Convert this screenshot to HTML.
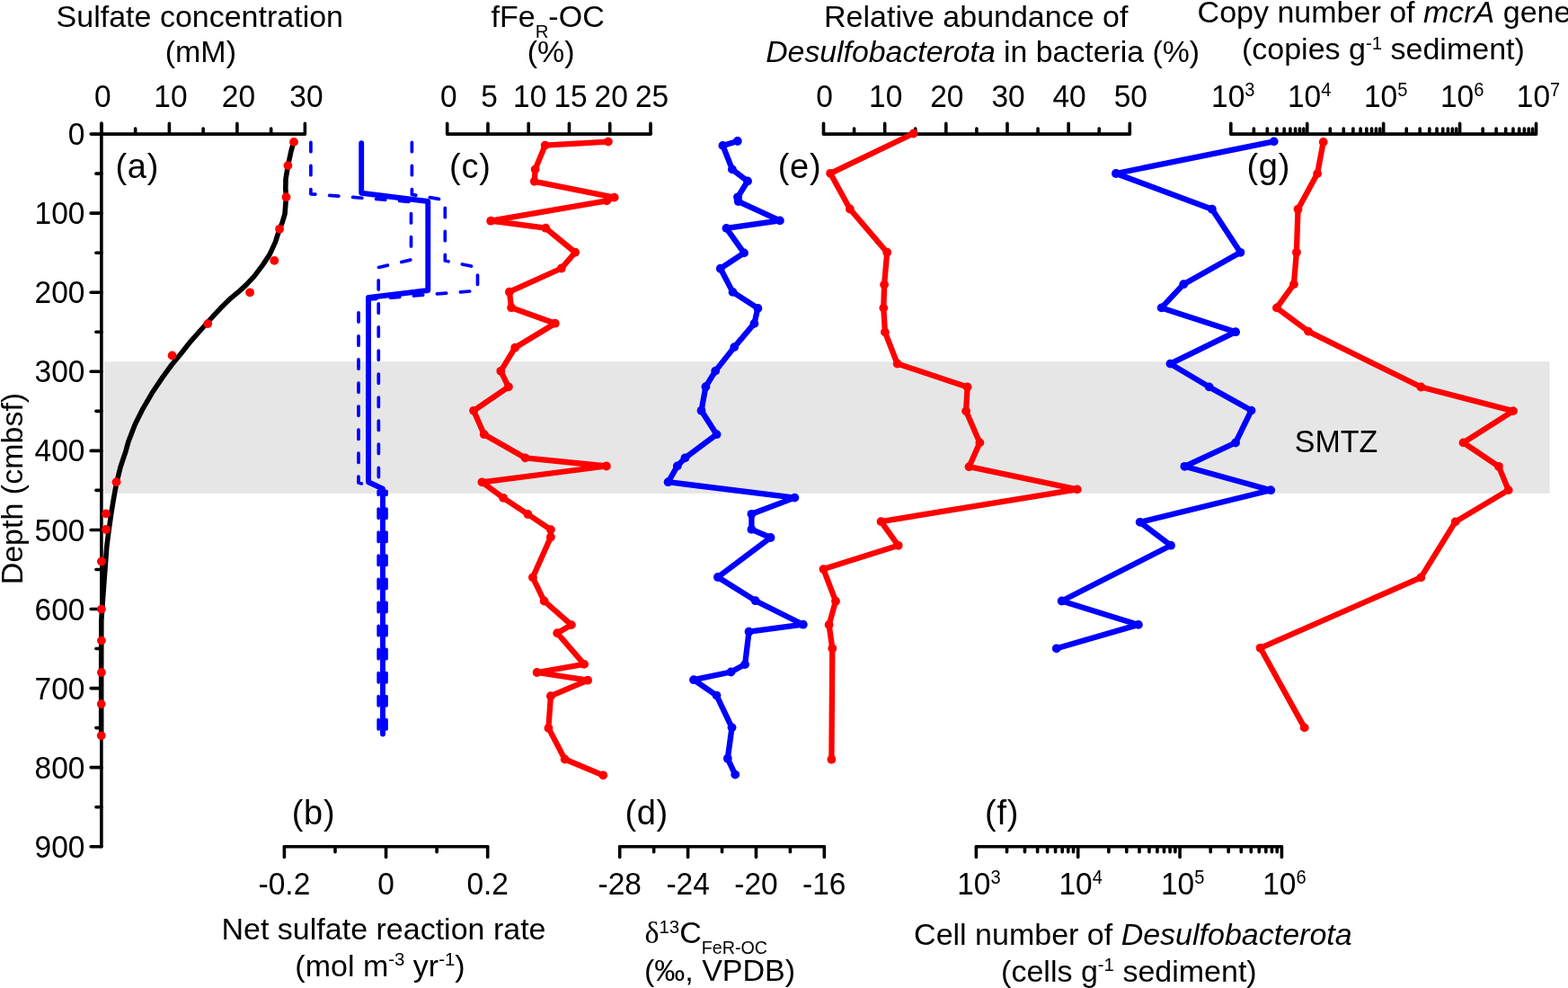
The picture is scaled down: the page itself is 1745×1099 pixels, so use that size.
<!DOCTYPE html>
<html><head><meta charset="utf-8"><title>Figure</title>
<style>html,body{margin:0;padding:0;background:#fff;}svg{display:block;}text{font-family:"Liberation Sans",Arial,sans-serif;fill:#000;}</style>
</head><body>
<svg width="1745" height="1099" viewBox="0 0 1745 1099">
<rect width="1745" height="1099" fill="#fff"/>
<rect x="115.9" y="402.2" width="1608.7" height="146.65" fill="#e6e6e6"/>
<line x1="112.90" y1="137.40" x2="112.90" y2="941.70" stroke="#000" stroke-width="3.6" stroke-linecap="round"/>
<line x1="101.20" y1="149.10" x2="112.90" y2="149.10" stroke="#000" stroke-width="3.6" stroke-linecap="round"/>
<text transform="translate(94.5,161.1) scale(1,1.075)" font-size="33.5" text-anchor="end" >0</text>
<line x1="106.90" y1="193.13" x2="112.90" y2="193.13" stroke="#000" stroke-width="3.6" stroke-linecap="round"/>
<line x1="101.20" y1="237.17" x2="112.90" y2="237.17" stroke="#000" stroke-width="3.6" stroke-linecap="round"/>
<text transform="translate(94.5,249.2) scale(1,1.075)" font-size="33.5" text-anchor="end" >100</text>
<line x1="106.90" y1="281.21" x2="112.90" y2="281.21" stroke="#000" stroke-width="3.6" stroke-linecap="round"/>
<line x1="101.20" y1="325.24" x2="112.90" y2="325.24" stroke="#000" stroke-width="3.6" stroke-linecap="round"/>
<text transform="translate(94.5,337.2) scale(1,1.075)" font-size="33.5" text-anchor="end" >200</text>
<line x1="106.90" y1="369.27" x2="112.90" y2="369.27" stroke="#000" stroke-width="3.6" stroke-linecap="round"/>
<line x1="101.20" y1="413.31" x2="112.90" y2="413.31" stroke="#000" stroke-width="3.6" stroke-linecap="round"/>
<text transform="translate(94.5,425.3) scale(1,1.075)" font-size="33.5" text-anchor="end" >300</text>
<line x1="106.90" y1="457.35" x2="112.90" y2="457.35" stroke="#000" stroke-width="3.6" stroke-linecap="round"/>
<line x1="101.20" y1="501.38" x2="112.90" y2="501.38" stroke="#000" stroke-width="3.6" stroke-linecap="round"/>
<text transform="translate(94.5,513.4) scale(1,1.075)" font-size="33.5" text-anchor="end" >400</text>
<line x1="106.90" y1="545.41" x2="112.90" y2="545.41" stroke="#000" stroke-width="3.6" stroke-linecap="round"/>
<line x1="101.20" y1="589.45" x2="112.90" y2="589.45" stroke="#000" stroke-width="3.6" stroke-linecap="round"/>
<text transform="translate(94.5,601.5) scale(1,1.075)" font-size="33.5" text-anchor="end" >500</text>
<line x1="106.90" y1="633.49" x2="112.90" y2="633.49" stroke="#000" stroke-width="3.6" stroke-linecap="round"/>
<line x1="101.20" y1="677.52" x2="112.90" y2="677.52" stroke="#000" stroke-width="3.6" stroke-linecap="round"/>
<text transform="translate(94.5,689.5) scale(1,1.075)" font-size="33.5" text-anchor="end" >600</text>
<line x1="106.90" y1="721.56" x2="112.90" y2="721.56" stroke="#000" stroke-width="3.6" stroke-linecap="round"/>
<line x1="101.20" y1="765.59" x2="112.90" y2="765.59" stroke="#000" stroke-width="3.6" stroke-linecap="round"/>
<text transform="translate(94.5,777.6) scale(1,1.075)" font-size="33.5" text-anchor="end" >700</text>
<line x1="106.90" y1="809.62" x2="112.90" y2="809.62" stroke="#000" stroke-width="3.6" stroke-linecap="round"/>
<line x1="101.20" y1="853.66" x2="112.90" y2="853.66" stroke="#000" stroke-width="3.6" stroke-linecap="round"/>
<text transform="translate(94.5,865.7) scale(1,1.075)" font-size="33.5" text-anchor="end" >800</text>
<line x1="106.90" y1="897.70" x2="112.90" y2="897.70" stroke="#000" stroke-width="3.6" stroke-linecap="round"/>
<line x1="101.20" y1="941.73" x2="112.90" y2="941.73" stroke="#000" stroke-width="3.6" stroke-linecap="round"/>
<text transform="translate(94.5,953.7) scale(1,1.075)" font-size="33.5" text-anchor="end" >900</text>
<line x1="112.90" y1="149.10" x2="339.40" y2="149.10" stroke="#000" stroke-width="3.6" stroke-linecap="round"/>
<line x1="112.90" y1="137.40" x2="112.90" y2="149.10" stroke="#000" stroke-width="3.6" stroke-linecap="round"/>
<line x1="188.40" y1="137.40" x2="188.40" y2="149.10" stroke="#000" stroke-width="3.6" stroke-linecap="round"/>
<line x1="263.90" y1="137.40" x2="263.90" y2="149.10" stroke="#000" stroke-width="3.6" stroke-linecap="round"/>
<line x1="339.40" y1="137.40" x2="339.40" y2="149.10" stroke="#000" stroke-width="3.6" stroke-linecap="round"/>
<line x1="150.65" y1="143.10" x2="150.65" y2="149.10" stroke="#000" stroke-width="3.6" stroke-linecap="round"/>
<line x1="226.15" y1="143.10" x2="226.15" y2="149.10" stroke="#000" stroke-width="3.6" stroke-linecap="round"/>
<line x1="301.65" y1="143.10" x2="301.65" y2="149.10" stroke="#000" stroke-width="3.6" stroke-linecap="round"/>
<text transform="translate(114.4,119.0) scale(1,1.075)" font-size="33.5" text-anchor="middle" >0</text>
<text transform="translate(189.9,119.0) scale(1,1.075)" font-size="33.5" text-anchor="middle" >10</text>
<text transform="translate(265.4,119.0) scale(1,1.075)" font-size="33.5" text-anchor="middle" >20</text>
<text transform="translate(340.9,119.0) scale(1,1.075)" font-size="33.5" text-anchor="middle" >30</text>
<line x1="497.70" y1="149.10" x2="724.00" y2="149.10" stroke="#000" stroke-width="3.6" stroke-linecap="round"/>
<line x1="497.70" y1="137.40" x2="497.70" y2="149.10" stroke="#000" stroke-width="3.6" stroke-linecap="round"/>
<line x1="542.96" y1="137.40" x2="542.96" y2="149.10" stroke="#000" stroke-width="3.6" stroke-linecap="round"/>
<line x1="588.22" y1="137.40" x2="588.22" y2="149.10" stroke="#000" stroke-width="3.6" stroke-linecap="round"/>
<line x1="633.48" y1="137.40" x2="633.48" y2="149.10" stroke="#000" stroke-width="3.6" stroke-linecap="round"/>
<line x1="678.74" y1="137.40" x2="678.74" y2="149.10" stroke="#000" stroke-width="3.6" stroke-linecap="round"/>
<line x1="724.00" y1="137.40" x2="724.00" y2="149.10" stroke="#000" stroke-width="3.6" stroke-linecap="round"/>
<text transform="translate(499.2,119.0) scale(1,1.075)" font-size="33.5" text-anchor="middle" >0</text>
<text transform="translate(544.5,119.0) scale(1,1.075)" font-size="33.5" text-anchor="middle" >5</text>
<text transform="translate(589.7,119.0) scale(1,1.075)" font-size="33.5" text-anchor="middle" >10</text>
<text transform="translate(635.0,119.0) scale(1,1.075)" font-size="33.5" text-anchor="middle" >15</text>
<text transform="translate(680.2,119.0) scale(1,1.075)" font-size="33.5" text-anchor="middle" >20</text>
<text transform="translate(725.5,119.0) scale(1,1.075)" font-size="33.5" text-anchor="middle" >25</text>
<line x1="916.50" y1="149.10" x2="1257.30" y2="149.10" stroke="#000" stroke-width="3.6" stroke-linecap="round"/>
<line x1="916.50" y1="137.40" x2="916.50" y2="149.10" stroke="#000" stroke-width="3.6" stroke-linecap="round"/>
<line x1="984.66" y1="137.40" x2="984.66" y2="149.10" stroke="#000" stroke-width="3.6" stroke-linecap="round"/>
<line x1="1052.82" y1="137.40" x2="1052.82" y2="149.10" stroke="#000" stroke-width="3.6" stroke-linecap="round"/>
<line x1="1120.98" y1="137.40" x2="1120.98" y2="149.10" stroke="#000" stroke-width="3.6" stroke-linecap="round"/>
<line x1="1189.14" y1="137.40" x2="1189.14" y2="149.10" stroke="#000" stroke-width="3.6" stroke-linecap="round"/>
<line x1="1257.30" y1="137.40" x2="1257.30" y2="149.10" stroke="#000" stroke-width="3.6" stroke-linecap="round"/>
<line x1="950.58" y1="143.10" x2="950.58" y2="149.10" stroke="#000" stroke-width="3.6" stroke-linecap="round"/>
<line x1="1018.74" y1="143.10" x2="1018.74" y2="149.10" stroke="#000" stroke-width="3.6" stroke-linecap="round"/>
<line x1="1086.90" y1="143.10" x2="1086.90" y2="149.10" stroke="#000" stroke-width="3.6" stroke-linecap="round"/>
<line x1="1155.06" y1="143.10" x2="1155.06" y2="149.10" stroke="#000" stroke-width="3.6" stroke-linecap="round"/>
<line x1="1223.22" y1="143.10" x2="1223.22" y2="149.10" stroke="#000" stroke-width="3.6" stroke-linecap="round"/>
<text transform="translate(917.5,119.0) scale(1,1.075)" font-size="33.5" text-anchor="middle" >0</text>
<text transform="translate(985.7,119.0) scale(1,1.075)" font-size="33.5" text-anchor="middle" >10</text>
<text transform="translate(1053.8,119.0) scale(1,1.075)" font-size="33.5" text-anchor="middle" >20</text>
<text transform="translate(1122.0,119.0) scale(1,1.075)" font-size="33.5" text-anchor="middle" >30</text>
<text transform="translate(1190.1,119.0) scale(1,1.075)" font-size="33.5" text-anchor="middle" >40</text>
<text transform="translate(1258.3,119.0) scale(1,1.075)" font-size="33.5" text-anchor="middle" >50</text>
<line x1="1369.80" y1="149.10" x2="1709.52" y2="149.10" stroke="#000" stroke-width="3.6" stroke-linecap="round"/>
<line x1="1369.80" y1="137.40" x2="1369.80" y2="149.10" stroke="#000" stroke-width="3.6" stroke-linecap="round"/>
<line x1="1454.73" y1="137.40" x2="1454.73" y2="149.10" stroke="#000" stroke-width="3.6" stroke-linecap="round"/>
<line x1="1539.66" y1="137.40" x2="1539.66" y2="149.10" stroke="#000" stroke-width="3.6" stroke-linecap="round"/>
<line x1="1624.59" y1="137.40" x2="1624.59" y2="149.10" stroke="#000" stroke-width="3.6" stroke-linecap="round"/>
<line x1="1709.52" y1="137.40" x2="1709.52" y2="149.10" stroke="#000" stroke-width="3.6" stroke-linecap="round"/>
<line x1="1395.37" y1="143.10" x2="1395.37" y2="149.10" stroke="#000" stroke-width="3.6" stroke-linecap="round"/>
<line x1="1410.32" y1="143.10" x2="1410.32" y2="149.10" stroke="#000" stroke-width="3.6" stroke-linecap="round"/>
<line x1="1420.93" y1="143.10" x2="1420.93" y2="149.10" stroke="#000" stroke-width="3.6" stroke-linecap="round"/>
<line x1="1429.16" y1="143.10" x2="1429.16" y2="149.10" stroke="#000" stroke-width="3.6" stroke-linecap="round"/>
<line x1="1435.89" y1="143.10" x2="1435.89" y2="149.10" stroke="#000" stroke-width="3.6" stroke-linecap="round"/>
<line x1="1441.57" y1="143.10" x2="1441.57" y2="149.10" stroke="#000" stroke-width="3.6" stroke-linecap="round"/>
<line x1="1446.50" y1="143.10" x2="1446.50" y2="149.10" stroke="#000" stroke-width="3.6" stroke-linecap="round"/>
<line x1="1450.84" y1="143.10" x2="1450.84" y2="149.10" stroke="#000" stroke-width="3.6" stroke-linecap="round"/>
<line x1="1480.30" y1="143.10" x2="1480.30" y2="149.10" stroke="#000" stroke-width="3.6" stroke-linecap="round"/>
<line x1="1495.25" y1="143.10" x2="1495.25" y2="149.10" stroke="#000" stroke-width="3.6" stroke-linecap="round"/>
<line x1="1505.86" y1="143.10" x2="1505.86" y2="149.10" stroke="#000" stroke-width="3.6" stroke-linecap="round"/>
<line x1="1514.09" y1="143.10" x2="1514.09" y2="149.10" stroke="#000" stroke-width="3.6" stroke-linecap="round"/>
<line x1="1520.82" y1="143.10" x2="1520.82" y2="149.10" stroke="#000" stroke-width="3.6" stroke-linecap="round"/>
<line x1="1526.50" y1="143.10" x2="1526.50" y2="149.10" stroke="#000" stroke-width="3.6" stroke-linecap="round"/>
<line x1="1531.43" y1="143.10" x2="1531.43" y2="149.10" stroke="#000" stroke-width="3.6" stroke-linecap="round"/>
<line x1="1535.77" y1="143.10" x2="1535.77" y2="149.10" stroke="#000" stroke-width="3.6" stroke-linecap="round"/>
<line x1="1565.23" y1="143.10" x2="1565.23" y2="149.10" stroke="#000" stroke-width="3.6" stroke-linecap="round"/>
<line x1="1580.18" y1="143.10" x2="1580.18" y2="149.10" stroke="#000" stroke-width="3.6" stroke-linecap="round"/>
<line x1="1590.79" y1="143.10" x2="1590.79" y2="149.10" stroke="#000" stroke-width="3.6" stroke-linecap="round"/>
<line x1="1599.02" y1="143.10" x2="1599.02" y2="149.10" stroke="#000" stroke-width="3.6" stroke-linecap="round"/>
<line x1="1605.75" y1="143.10" x2="1605.75" y2="149.10" stroke="#000" stroke-width="3.6" stroke-linecap="round"/>
<line x1="1611.43" y1="143.10" x2="1611.43" y2="149.10" stroke="#000" stroke-width="3.6" stroke-linecap="round"/>
<line x1="1616.36" y1="143.10" x2="1616.36" y2="149.10" stroke="#000" stroke-width="3.6" stroke-linecap="round"/>
<line x1="1620.70" y1="143.10" x2="1620.70" y2="149.10" stroke="#000" stroke-width="3.6" stroke-linecap="round"/>
<line x1="1650.16" y1="143.10" x2="1650.16" y2="149.10" stroke="#000" stroke-width="3.6" stroke-linecap="round"/>
<line x1="1665.11" y1="143.10" x2="1665.11" y2="149.10" stroke="#000" stroke-width="3.6" stroke-linecap="round"/>
<line x1="1675.72" y1="143.10" x2="1675.72" y2="149.10" stroke="#000" stroke-width="3.6" stroke-linecap="round"/>
<line x1="1683.95" y1="143.10" x2="1683.95" y2="149.10" stroke="#000" stroke-width="3.6" stroke-linecap="round"/>
<line x1="1690.68" y1="143.10" x2="1690.68" y2="149.10" stroke="#000" stroke-width="3.6" stroke-linecap="round"/>
<line x1="1696.36" y1="143.10" x2="1696.36" y2="149.10" stroke="#000" stroke-width="3.6" stroke-linecap="round"/>
<line x1="1701.29" y1="143.10" x2="1701.29" y2="149.10" stroke="#000" stroke-width="3.6" stroke-linecap="round"/>
<line x1="1705.63" y1="143.10" x2="1705.63" y2="149.10" stroke="#000" stroke-width="3.6" stroke-linecap="round"/>
<text transform="translate(1372.3,119.0) scale(1,1.075)" font-size="33.5" text-anchor="middle">10<tspan font-size="20.1" dy="-11.1">3</tspan></text>
<text transform="translate(1457.2,119.0) scale(1,1.075)" font-size="33.5" text-anchor="middle">10<tspan font-size="20.1" dy="-11.1">4</tspan></text>
<text transform="translate(1542.2,119.0) scale(1,1.075)" font-size="33.5" text-anchor="middle">10<tspan font-size="20.1" dy="-11.1">5</tspan></text>
<text transform="translate(1627.1,119.0) scale(1,1.075)" font-size="33.5" text-anchor="middle">10<tspan font-size="20.1" dy="-11.1">6</tspan></text>
<text transform="translate(1712.0,119.0) scale(1,1.075)" font-size="33.5" text-anchor="middle">10<tspan font-size="20.1" dy="-11.1">7</tspan></text>
<line x1="316.40" y1="941.70" x2="542.70" y2="941.70" stroke="#000" stroke-width="3.6" stroke-linecap="round"/>
<line x1="316.40" y1="941.70" x2="316.40" y2="953.40" stroke="#000" stroke-width="3.6" stroke-linecap="round"/>
<line x1="429.55" y1="941.70" x2="429.55" y2="953.40" stroke="#000" stroke-width="3.6" stroke-linecap="round"/>
<line x1="542.70" y1="941.70" x2="542.70" y2="953.40" stroke="#000" stroke-width="3.6" stroke-linecap="round"/>
<line x1="372.98" y1="941.70" x2="372.98" y2="947.70" stroke="#000" stroke-width="3.6" stroke-linecap="round"/>
<line x1="486.12" y1="941.70" x2="486.12" y2="947.70" stroke="#000" stroke-width="3.6" stroke-linecap="round"/>
<text transform="translate(316.4,994.6) scale(1,1.075)" font-size="33.5" text-anchor="middle" >-0.2</text>
<text transform="translate(429.6,994.6) scale(1,1.075)" font-size="33.5" text-anchor="middle" >0</text>
<text transform="translate(542.7,994.6) scale(1,1.075)" font-size="33.5" text-anchor="middle" >0.2</text>
<line x1="689.70" y1="941.70" x2="917.34" y2="941.70" stroke="#000" stroke-width="3.6" stroke-linecap="round"/>
<line x1="689.70" y1="941.70" x2="689.70" y2="953.40" stroke="#000" stroke-width="3.6" stroke-linecap="round"/>
<line x1="765.58" y1="941.70" x2="765.58" y2="953.40" stroke="#000" stroke-width="3.6" stroke-linecap="round"/>
<line x1="841.46" y1="941.70" x2="841.46" y2="953.40" stroke="#000" stroke-width="3.6" stroke-linecap="round"/>
<line x1="917.34" y1="941.70" x2="917.34" y2="953.40" stroke="#000" stroke-width="3.6" stroke-linecap="round"/>
<line x1="727.64" y1="941.70" x2="727.64" y2="947.70" stroke="#000" stroke-width="3.6" stroke-linecap="round"/>
<line x1="803.52" y1="941.70" x2="803.52" y2="947.70" stroke="#000" stroke-width="3.6" stroke-linecap="round"/>
<line x1="879.40" y1="941.70" x2="879.40" y2="947.70" stroke="#000" stroke-width="3.6" stroke-linecap="round"/>
<text transform="translate(689.7,994.6) scale(1,1.075)" font-size="33.5" text-anchor="middle" >-28</text>
<text transform="translate(765.6,994.6) scale(1,1.075)" font-size="33.5" text-anchor="middle" >-24</text>
<text transform="translate(841.5,994.6) scale(1,1.075)" font-size="33.5" text-anchor="middle" >-20</text>
<text transform="translate(917.3,994.6) scale(1,1.075)" font-size="33.5" text-anchor="middle" >-16</text>
<line x1="1086.40" y1="941.70" x2="1426.39" y2="941.70" stroke="#000" stroke-width="3.6" stroke-linecap="round"/>
<line x1="1086.40" y1="941.70" x2="1086.40" y2="953.40" stroke="#000" stroke-width="3.6" stroke-linecap="round"/>
<line x1="1199.73" y1="941.70" x2="1199.73" y2="953.40" stroke="#000" stroke-width="3.6" stroke-linecap="round"/>
<line x1="1313.06" y1="941.70" x2="1313.06" y2="953.40" stroke="#000" stroke-width="3.6" stroke-linecap="round"/>
<line x1="1426.39" y1="941.70" x2="1426.39" y2="953.40" stroke="#000" stroke-width="3.6" stroke-linecap="round"/>
<line x1="1120.52" y1="941.70" x2="1120.52" y2="947.70" stroke="#000" stroke-width="3.6" stroke-linecap="round"/>
<line x1="1140.47" y1="941.70" x2="1140.47" y2="947.70" stroke="#000" stroke-width="3.6" stroke-linecap="round"/>
<line x1="1154.63" y1="941.70" x2="1154.63" y2="947.70" stroke="#000" stroke-width="3.6" stroke-linecap="round"/>
<line x1="1165.61" y1="941.70" x2="1165.61" y2="947.70" stroke="#000" stroke-width="3.6" stroke-linecap="round"/>
<line x1="1174.59" y1="941.70" x2="1174.59" y2="947.70" stroke="#000" stroke-width="3.6" stroke-linecap="round"/>
<line x1="1182.17" y1="941.70" x2="1182.17" y2="947.70" stroke="#000" stroke-width="3.6" stroke-linecap="round"/>
<line x1="1188.75" y1="941.70" x2="1188.75" y2="947.70" stroke="#000" stroke-width="3.6" stroke-linecap="round"/>
<line x1="1194.54" y1="941.70" x2="1194.54" y2="947.70" stroke="#000" stroke-width="3.6" stroke-linecap="round"/>
<line x1="1233.85" y1="941.70" x2="1233.85" y2="947.70" stroke="#000" stroke-width="3.6" stroke-linecap="round"/>
<line x1="1253.80" y1="941.70" x2="1253.80" y2="947.70" stroke="#000" stroke-width="3.6" stroke-linecap="round"/>
<line x1="1267.96" y1="941.70" x2="1267.96" y2="947.70" stroke="#000" stroke-width="3.6" stroke-linecap="round"/>
<line x1="1278.94" y1="941.70" x2="1278.94" y2="947.70" stroke="#000" stroke-width="3.6" stroke-linecap="round"/>
<line x1="1287.92" y1="941.70" x2="1287.92" y2="947.70" stroke="#000" stroke-width="3.6" stroke-linecap="round"/>
<line x1="1295.50" y1="941.70" x2="1295.50" y2="947.70" stroke="#000" stroke-width="3.6" stroke-linecap="round"/>
<line x1="1302.08" y1="941.70" x2="1302.08" y2="947.70" stroke="#000" stroke-width="3.6" stroke-linecap="round"/>
<line x1="1307.87" y1="941.70" x2="1307.87" y2="947.70" stroke="#000" stroke-width="3.6" stroke-linecap="round"/>
<line x1="1347.18" y1="941.70" x2="1347.18" y2="947.70" stroke="#000" stroke-width="3.6" stroke-linecap="round"/>
<line x1="1367.13" y1="941.70" x2="1367.13" y2="947.70" stroke="#000" stroke-width="3.6" stroke-linecap="round"/>
<line x1="1381.29" y1="941.70" x2="1381.29" y2="947.70" stroke="#000" stroke-width="3.6" stroke-linecap="round"/>
<line x1="1392.27" y1="941.70" x2="1392.27" y2="947.70" stroke="#000" stroke-width="3.6" stroke-linecap="round"/>
<line x1="1401.25" y1="941.70" x2="1401.25" y2="947.70" stroke="#000" stroke-width="3.6" stroke-linecap="round"/>
<line x1="1408.83" y1="941.70" x2="1408.83" y2="947.70" stroke="#000" stroke-width="3.6" stroke-linecap="round"/>
<line x1="1415.41" y1="941.70" x2="1415.41" y2="947.70" stroke="#000" stroke-width="3.6" stroke-linecap="round"/>
<line x1="1421.20" y1="941.70" x2="1421.20" y2="947.70" stroke="#000" stroke-width="3.6" stroke-linecap="round"/>
<text transform="translate(1089.4,994.6) scale(1,1.075)" font-size="33.5" text-anchor="middle">10<tspan font-size="20.1" dy="-11.1">3</tspan></text>
<text transform="translate(1202.7,994.6) scale(1,1.075)" font-size="33.5" text-anchor="middle">10<tspan font-size="20.1" dy="-11.1">4</tspan></text>
<text transform="translate(1316.1,994.6) scale(1,1.075)" font-size="33.5" text-anchor="middle">10<tspan font-size="20.1" dy="-11.1">5</tspan></text>
<text transform="translate(1429.4,994.6) scale(1,1.075)" font-size="33.5" text-anchor="middle">10<tspan font-size="20.1" dy="-11.1">6</tspan></text>
<text transform="translate(128.5,198.0) scale(1,1.0)" font-size="38" text-anchor="start" letter-spacing="0.7">(a)</text>
<text transform="translate(324.7,917.0) scale(1,1.0)" font-size="38" text-anchor="start" letter-spacing="0.7">(b)</text>
<text transform="translate(500.1,198.0) scale(1,1.0)" font-size="38" text-anchor="start" letter-spacing="0.7">(c)</text>
<text transform="translate(695.4,917.0) scale(1,1.0)" font-size="38" text-anchor="start" letter-spacing="0.7">(d)</text>
<text transform="translate(865.7,198.0) scale(1,1.0)" font-size="38" text-anchor="start" letter-spacing="0.7">(e)</text>
<text transform="translate(1096.1,917.0) scale(1,1.0)" font-size="38" text-anchor="start" letter-spacing="0.7">(f)</text>
<text transform="translate(1387.5,198.0) scale(1,1.0)" font-size="38" text-anchor="start" letter-spacing="0.7">(g)</text>
<text transform="translate(222.3,30.0) scale(1,1.0)" font-size="34" text-anchor="middle" >Sulfate concentration</text>
<text transform="translate(223.3,69.0) scale(1,1.0)" font-size="34" text-anchor="middle" >(mM)</text>
<text transform="translate(546.5,30) scale(1,1.0)" font-size="34" text-anchor="start">fFe<tspan font-size="20.4" dy="11.5">R</tspan><tspan dy="-11.5">-OC</tspan></text>
<text transform="translate(613.2,69.0) scale(1,1.0)" font-size="34" text-anchor="middle" >(%)</text>
<text transform="translate(1086.2,29.8) scale(1,1.0)" font-size="34" text-anchor="middle" >Relative abundance of</text>
<text transform="translate(1093.6,68.6) scale(1,1.0)" font-size="33.8" text-anchor="middle"><tspan font-style="italic">Desulfobacterota</tspan> in bacteria (%)</text>
<text transform="translate(1540.5,25.3) scale(1,1.0)" font-size="34" text-anchor="middle">Copy number of <tspan font-style="italic">mcrA</tspan> gene</text>
<text transform="translate(1539.4,66.4) scale(1,1.0)" font-size="34" text-anchor="middle">(copies g<tspan font-size="20.4" dy="-11.7">-1</tspan><tspan dy="11.7"> sediment)</tspan></text>
<text transform="translate(427.0,1045.4) scale(1,1.0)" font-size="34" text-anchor="middle" >Net sulfate reaction rate</text>
<text transform="translate(423,1086) scale(1,1.0)" font-size="34" text-anchor="middle">(mol m<tspan font-size="20.4" dy="-11.7">-3</tspan><tspan dy="11.7"> yr</tspan><tspan font-size="20.4" dy="-11.7">-1</tspan><tspan dy="11.7">)</tspan></text>
<text transform="translate(717.5,1049) scale(1,1.0)" font-size="34" text-anchor="start"><tspan font-family="Liberation Serif, serif">δ</tspan><tspan font-size="20.4" dy="-11">13</tspan><tspan dy="11">C</tspan><tspan font-size="19.7" dy="12">FeR-OC</tspan></text>
<text transform="translate(801.0,1090.5) scale(1,1.0)" font-size="34" text-anchor="middle" >(‰, VPDB)</text>
<text transform="translate(1260.9,1051) scale(1,1.0)" font-size="34" text-anchor="middle">Cell number of <tspan font-style="italic">Desulfobacterota</tspan></text>
<text transform="translate(1256.4,1091.9) scale(1,1.0)" font-size="34" text-anchor="middle">(cells g<tspan font-size="20.4" dy="-11.7">-1</tspan><tspan dy="11.7"> sediment)</tspan></text>
<text transform="translate(1487,503) scale(1,1.055)" font-size="34" text-anchor="middle">SMTZ</text>
<text transform="translate(24.5,543.6) rotate(-90) scale(1,1.0)" font-size="34" text-anchor="middle">Depth (cmbsf)</text>
<polyline points="326.8,157.8 324.0,168.0 320.5,184.0 318.0,199.0 317.8,210.0 318.5,219.0 317.0,238.0 314.0,248.0 311.1,254.8 306.5,269.1 300.1,283.1 292.5,294.6 282.9,307.4 273.3,317.6 266.3,323.9 255.5,332.9 245.3,343.1 236.8,352.2 224.4,366.0 212.1,379.8 201.1,393.7 190.9,406.0 180.8,419.9 169.1,437.3 158.9,454.8 150.2,472.3 142.9,491.2 140.0,501.8 134.1,519.3 129.8,536.8 126.8,552.8 123.9,570.3 121.0,590.7 118.8,608.1 117.3,628.0 114.5,666.0 112.8,690.0 112.7,760.0 112.7,818.0" fill="none" stroke="#000" stroke-width="5.6" stroke-linejoin="round" stroke-linecap="round"/>
<circle cx="327" cy="157.9" r="4.9" fill="#ff0000"/>
<circle cx="320.4" cy="184.1" r="4.9" fill="#ff0000"/>
<circle cx="318.5" cy="219.2" r="4.9" fill="#ff0000"/>
<circle cx="311.1" cy="254.8" r="4.9" fill="#ff0000"/>
<circle cx="305.3" cy="289.9" r="4.9" fill="#ff0000"/>
<circle cx="278.1" cy="325.3" r="4.9" fill="#ff0000"/>
<circle cx="231.2" cy="360.1" r="4.9" fill="#ff0000"/>
<circle cx="191.6" cy="395.5" r="4.9" fill="#ff0000"/>
<circle cx="129.5" cy="536.2" r="4.9" fill="#ff0000"/>
<circle cx="118" cy="571.4" r="4.9" fill="#ff0000"/>
<circle cx="118" cy="589" r="4.9" fill="#ff0000"/>
<circle cx="112.9" cy="624.5" r="4.9" fill="#ff0000"/>
<circle cx="112.9" cy="677.6" r="4.9" fill="#ff0000"/>
<circle cx="112.9" cy="712.6" r="4.9" fill="#ff0000"/>
<circle cx="112.9" cy="748" r="4.9" fill="#ff0000"/>
<circle cx="112.7" cy="783.1" r="4.9" fill="#ff0000"/>
<circle cx="112.7" cy="818.3" r="4.9" fill="#ff0000"/>
<polyline points="345.9,158.4 345.9,215.8 457.5,224.5 457.5,289.0 421.2,297.5" fill="none" stroke="#0000ff" stroke-width="3.7" stroke-linejoin="round" stroke-linecap="round" stroke-dasharray="10.3 15.76" stroke-dashoffset="0"/>
<polyline points="421.2,297.5 421.4,540.0" fill="none" stroke="#0000ff" stroke-width="3.7" stroke-linejoin="round" stroke-linecap="round" stroke-dasharray="10.3 15.76" stroke-dashoffset="11.76"/>
<polyline points="458.4,158.4 458.4,216.4 495.3,222.5 495.3,290.0 531.5,297.5 531.5,323.3 411.0,333.0 408.0,327.5 399.0,332.2" fill="none" stroke="#0000ff" stroke-width="3.7" stroke-linejoin="round" stroke-linecap="round" stroke-dasharray="10.3 15.76" stroke-dashoffset="0"/>
<polyline points="399.0,332.2 399.0,537.0 410.0,540.0" fill="none" stroke="#0000ff" stroke-width="3.7" stroke-linejoin="round" stroke-linecap="round" stroke-dasharray="10.3 15.76" stroke-dashoffset="10.46"/>
<line x1="421.2" y1="546.3" x2="421.2" y2="814.4" stroke="#0000ff" stroke-width="3.7" stroke-linecap="round" stroke-dasharray="10.3 15.76" stroke-dashoffset="6.3"/>
<line x1="430" y1="546.3" x2="430" y2="814.4" stroke="#0000ff" stroke-width="3.7" stroke-linecap="round" stroke-dasharray="10.3 15.76" stroke-dashoffset="6.3"/>
<polyline points="402.2,159.3 402.2,214.8 476.3,224.0 476.3,323.0 410.0,331.0 410.0,536.3 426.0,543.7 426.0,816.5" fill="none" stroke="#0000ff" stroke-width="5.9" stroke-linejoin="round" stroke-linecap="round"/>
<polyline points="676.9,157.6 606.7,161.6 595.6,188.4 594.8,201.8 683.7,219.6 675.1,223.4 546.2,245.7 607.3,253.7 640.1,280.7 624.8,298.5 566.9,324.7 569.1,342.2 617.8,359.7 573.2,386.7 557.3,412.8 565.9,430.3 527.1,456.8 538.8,483.2 584.5,509.3 674.9,518.5 536.4,536.3 560.1,553.8 587.4,572.0 612.9,589.1 612.9,597.5 592.9,642.3 605.6,668.5 635.9,695.1 620.2,704.2 650.1,738.9 597.6,748.0 654.1,756.7 612.9,774.2 610.4,809.9 628.6,844.5 671.2,862.3" fill="none" stroke="#ff0000" stroke-width="6.3" stroke-linejoin="round" stroke-linecap="round"/>
<circle cx="676.9" cy="157.6" r="4.9" fill="#ff0000"/>
<circle cx="606.7" cy="161.6" r="4.9" fill="#ff0000"/>
<circle cx="595.6" cy="188.4" r="4.9" fill="#ff0000"/>
<circle cx="594.8" cy="201.8" r="4.9" fill="#ff0000"/>
<circle cx="683.7" cy="219.6" r="4.9" fill="#ff0000"/>
<circle cx="675.1" cy="223.4" r="4.9" fill="#ff0000"/>
<circle cx="546.2" cy="245.7" r="4.9" fill="#ff0000"/>
<circle cx="607.3" cy="253.7" r="4.9" fill="#ff0000"/>
<circle cx="640.1" cy="280.7" r="4.9" fill="#ff0000"/>
<circle cx="624.8" cy="298.5" r="4.9" fill="#ff0000"/>
<circle cx="566.9" cy="324.7" r="4.9" fill="#ff0000"/>
<circle cx="569.1" cy="342.2" r="4.9" fill="#ff0000"/>
<circle cx="617.8" cy="359.7" r="4.9" fill="#ff0000"/>
<circle cx="573.2" cy="386.7" r="4.9" fill="#ff0000"/>
<circle cx="557.3" cy="412.8" r="4.9" fill="#ff0000"/>
<circle cx="565.9" cy="430.3" r="4.9" fill="#ff0000"/>
<circle cx="527.1" cy="456.8" r="4.9" fill="#ff0000"/>
<circle cx="538.8" cy="483.2" r="4.9" fill="#ff0000"/>
<circle cx="584.5" cy="509.3" r="4.9" fill="#ff0000"/>
<circle cx="674.9" cy="518.5" r="4.9" fill="#ff0000"/>
<circle cx="536.4" cy="536.3" r="4.9" fill="#ff0000"/>
<circle cx="560.1" cy="553.8" r="4.9" fill="#ff0000"/>
<circle cx="587.4" cy="572.0" r="4.9" fill="#ff0000"/>
<circle cx="612.9" cy="589.1" r="4.9" fill="#ff0000"/>
<circle cx="612.9" cy="597.5" r="4.9" fill="#ff0000"/>
<circle cx="592.9" cy="642.3" r="4.9" fill="#ff0000"/>
<circle cx="605.6" cy="668.5" r="4.9" fill="#ff0000"/>
<circle cx="635.9" cy="695.1" r="4.9" fill="#ff0000"/>
<circle cx="620.2" cy="704.2" r="4.9" fill="#ff0000"/>
<circle cx="650.1" cy="738.9" r="4.9" fill="#ff0000"/>
<circle cx="597.6" cy="748.0" r="4.9" fill="#ff0000"/>
<circle cx="654.1" cy="756.7" r="4.9" fill="#ff0000"/>
<circle cx="612.9" cy="774.2" r="4.9" fill="#ff0000"/>
<circle cx="610.4" cy="809.9" r="4.9" fill="#ff0000"/>
<circle cx="628.6" cy="844.5" r="4.9" fill="#ff0000"/>
<circle cx="671.2" cy="862.3" r="4.9" fill="#ff0000"/>
<polyline points="820.8,157.0 804.4,161.9 814.9,188.4 832.0,201.5 821.0,219.3 821.7,224.1 867.9,245.4 808.4,253.9 828.0,281.4 801.8,298.7 815.5,324.9 843.4,342.9 839.4,359.9 817.2,386.1 796.2,412.6 785.4,430.2 780.5,456.8 797.5,483.2 762.5,509.3 753.8,518.4 743.6,536.2 884.4,553.6 836.4,571.8 836.4,588.9 857.5,598.0 798.9,642.0 840.7,668.2 893.8,694.7 833.5,702.7 829.1,739.1 813.5,747.5 772.0,756.2 797.5,773.6 814.5,809.3 809.8,843.8 818.2,861.6" fill="none" stroke="#0000ff" stroke-width="6.3" stroke-linejoin="round" stroke-linecap="round"/>
<circle cx="820.8" cy="157.0" r="4.9" fill="#0000ff"/>
<circle cx="804.4" cy="161.9" r="4.9" fill="#0000ff"/>
<circle cx="814.9" cy="188.4" r="4.9" fill="#0000ff"/>
<circle cx="832.0" cy="201.5" r="4.9" fill="#0000ff"/>
<circle cx="821.0" cy="219.3" r="4.9" fill="#0000ff"/>
<circle cx="821.7" cy="224.1" r="4.9" fill="#0000ff"/>
<circle cx="867.9" cy="245.4" r="4.9" fill="#0000ff"/>
<circle cx="808.4" cy="253.9" r="4.9" fill="#0000ff"/>
<circle cx="828.0" cy="281.4" r="4.9" fill="#0000ff"/>
<circle cx="801.8" cy="298.7" r="4.9" fill="#0000ff"/>
<circle cx="815.5" cy="324.9" r="4.9" fill="#0000ff"/>
<circle cx="843.4" cy="342.9" r="4.9" fill="#0000ff"/>
<circle cx="839.4" cy="359.9" r="4.9" fill="#0000ff"/>
<circle cx="817.2" cy="386.1" r="4.9" fill="#0000ff"/>
<circle cx="796.2" cy="412.6" r="4.9" fill="#0000ff"/>
<circle cx="785.4" cy="430.2" r="4.9" fill="#0000ff"/>
<circle cx="780.5" cy="456.8" r="4.9" fill="#0000ff"/>
<circle cx="797.5" cy="483.2" r="4.9" fill="#0000ff"/>
<circle cx="762.5" cy="509.3" r="4.9" fill="#0000ff"/>
<circle cx="753.8" cy="518.4" r="4.9" fill="#0000ff"/>
<circle cx="743.6" cy="536.2" r="4.9" fill="#0000ff"/>
<circle cx="884.4" cy="553.6" r="4.9" fill="#0000ff"/>
<circle cx="836.4" cy="571.8" r="4.9" fill="#0000ff"/>
<circle cx="836.4" cy="588.9" r="4.9" fill="#0000ff"/>
<circle cx="857.5" cy="598.0" r="4.9" fill="#0000ff"/>
<circle cx="798.9" cy="642.0" r="4.9" fill="#0000ff"/>
<circle cx="840.7" cy="668.2" r="4.9" fill="#0000ff"/>
<circle cx="893.8" cy="694.7" r="4.9" fill="#0000ff"/>
<circle cx="833.5" cy="702.7" r="4.9" fill="#0000ff"/>
<circle cx="829.1" cy="739.1" r="4.9" fill="#0000ff"/>
<circle cx="813.5" cy="747.5" r="4.9" fill="#0000ff"/>
<circle cx="772.0" cy="756.2" r="4.9" fill="#0000ff"/>
<circle cx="797.5" cy="773.6" r="4.9" fill="#0000ff"/>
<circle cx="814.5" cy="809.3" r="4.9" fill="#0000ff"/>
<circle cx="809.8" cy="843.8" r="4.9" fill="#0000ff"/>
<circle cx="818.2" cy="861.6" r="4.9" fill="#0000ff"/>
<polyline points="1016.6,148.5 924.1,192.8 945.9,232.5 987.2,280.7 984.1,316.6 983.3,342.6 984.9,369.4 998.6,404.5 1076.6,430.5 1075.1,457.3 1090.4,492.4 1078.5,519.2 1198.8,544.4 980.5,580.1 999.7,606.8 916.4,633.1 930.0,668.7 922.6,695.0 926.3,721.3 925.4,844.8" fill="none" stroke="#ff0000" stroke-width="6.3" stroke-linejoin="round" stroke-linecap="round"/>
<circle cx="1016.6" cy="148.5" r="4.9" fill="#ff0000"/>
<circle cx="924.1" cy="192.8" r="4.9" fill="#ff0000"/>
<circle cx="945.9" cy="232.5" r="4.9" fill="#ff0000"/>
<circle cx="987.2" cy="280.7" r="4.9" fill="#ff0000"/>
<circle cx="984.1" cy="316.6" r="4.9" fill="#ff0000"/>
<circle cx="983.3" cy="342.6" r="4.9" fill="#ff0000"/>
<circle cx="984.9" cy="369.4" r="4.9" fill="#ff0000"/>
<circle cx="998.6" cy="404.5" r="4.9" fill="#ff0000"/>
<circle cx="1076.6" cy="430.5" r="4.9" fill="#ff0000"/>
<circle cx="1075.1" cy="457.3" r="4.9" fill="#ff0000"/>
<circle cx="1090.4" cy="492.4" r="4.9" fill="#ff0000"/>
<circle cx="1078.5" cy="519.2" r="4.9" fill="#ff0000"/>
<circle cx="1198.8" cy="544.4" r="4.9" fill="#ff0000"/>
<circle cx="980.5" cy="580.1" r="4.9" fill="#ff0000"/>
<circle cx="999.7" cy="606.8" r="4.9" fill="#ff0000"/>
<circle cx="916.4" cy="633.1" r="4.9" fill="#ff0000"/>
<circle cx="930.0" cy="668.7" r="4.9" fill="#ff0000"/>
<circle cx="922.6" cy="695.0" r="4.9" fill="#ff0000"/>
<circle cx="926.3" cy="721.3" r="4.9" fill="#ff0000"/>
<circle cx="925.4" cy="844.8" r="4.9" fill="#ff0000"/>
<polyline points="1417.7,157.4 1241.9,193.0 1348.9,232.7 1380.4,280.8 1317.2,316.2 1292.6,342.4 1375.1,369.2 1302.4,404.6 1345.7,430.4 1392.5,456.6 1375.0,492.5 1318.4,518.8 1414.2,545.2 1268.7,580.8 1303.0,606.7 1181.6,668.5 1266.9,694.9 1175.8,721.3" fill="none" stroke="#0000ff" stroke-width="6.3" stroke-linejoin="round" stroke-linecap="round"/>
<circle cx="1417.7" cy="157.4" r="4.9" fill="#0000ff"/>
<circle cx="1241.9" cy="193.0" r="4.9" fill="#0000ff"/>
<circle cx="1348.9" cy="232.7" r="4.9" fill="#0000ff"/>
<circle cx="1380.4" cy="280.8" r="4.9" fill="#0000ff"/>
<circle cx="1317.2" cy="316.2" r="4.9" fill="#0000ff"/>
<circle cx="1292.6" cy="342.4" r="4.9" fill="#0000ff"/>
<circle cx="1375.1" cy="369.2" r="4.9" fill="#0000ff"/>
<circle cx="1302.4" cy="404.6" r="4.9" fill="#0000ff"/>
<circle cx="1345.7" cy="430.4" r="4.9" fill="#0000ff"/>
<circle cx="1392.5" cy="456.6" r="4.9" fill="#0000ff"/>
<circle cx="1375.0" cy="492.5" r="4.9" fill="#0000ff"/>
<circle cx="1318.4" cy="518.8" r="4.9" fill="#0000ff"/>
<circle cx="1414.2" cy="545.2" r="4.9" fill="#0000ff"/>
<circle cx="1268.7" cy="580.8" r="4.9" fill="#0000ff"/>
<circle cx="1303.0" cy="606.7" r="4.9" fill="#0000ff"/>
<circle cx="1181.6" cy="668.5" r="4.9" fill="#0000ff"/>
<circle cx="1266.9" cy="694.9" r="4.9" fill="#0000ff"/>
<circle cx="1175.8" cy="721.3" r="4.9" fill="#0000ff"/>
<polyline points="1472.7,158.0 1466.1,193.1 1444.5,232.7 1442.9,280.8 1439.9,316.2 1420.9,342.4 1456.0,368.6 1581.4,430.5 1684.0,457.1 1628.5,492.4 1667.9,518.8 1678.7,545.1 1619.7,580.4 1581.3,642.4 1402.6,720.8 1451.7,809.4" fill="none" stroke="#ff0000" stroke-width="6.3" stroke-linejoin="round" stroke-linecap="round"/>
<circle cx="1472.7" cy="158.0" r="4.9" fill="#ff0000"/>
<circle cx="1466.1" cy="193.1" r="4.9" fill="#ff0000"/>
<circle cx="1444.5" cy="232.7" r="4.9" fill="#ff0000"/>
<circle cx="1442.9" cy="280.8" r="4.9" fill="#ff0000"/>
<circle cx="1439.9" cy="316.2" r="4.9" fill="#ff0000"/>
<circle cx="1420.9" cy="342.4" r="4.9" fill="#ff0000"/>
<circle cx="1456.0" cy="368.6" r="4.9" fill="#ff0000"/>
<circle cx="1581.4" cy="430.5" r="4.9" fill="#ff0000"/>
<circle cx="1684.0" cy="457.1" r="4.9" fill="#ff0000"/>
<circle cx="1628.5" cy="492.4" r="4.9" fill="#ff0000"/>
<circle cx="1667.9" cy="518.8" r="4.9" fill="#ff0000"/>
<circle cx="1678.7" cy="545.1" r="4.9" fill="#ff0000"/>
<circle cx="1619.7" cy="580.4" r="4.9" fill="#ff0000"/>
<circle cx="1581.3" cy="642.4" r="4.9" fill="#ff0000"/>
<circle cx="1402.6" cy="720.8" r="4.9" fill="#ff0000"/>
<circle cx="1451.7" cy="809.4" r="4.9" fill="#ff0000"/>
</svg>
</body></html>
